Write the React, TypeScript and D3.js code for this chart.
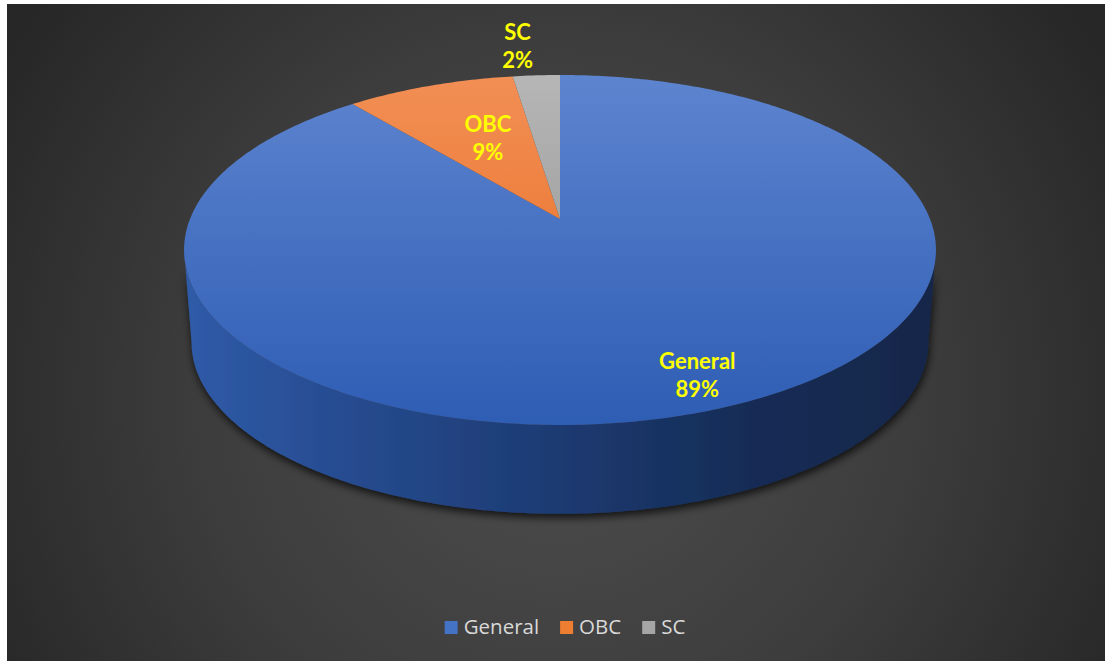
import React, { useEffect, useRef } from 'react';
import * as d3 from 'd3';

// slice data
const categories = ['General', 'OBC', 'SC'];
const shares = [89.0, 8.6, 2.4];
const shareLabels = ['89%', '9%', '2%'];

// colours (top face gradient: light -> dark)
const topColors: Record<string, [string, string]> = {
  General: ['#5d84cf', '#2e5db4'],
  OBC: ['#f28f55', '#e7691c'],
  SC: ['#b6b6b6', '#8c8c8c'],
};
const legendColors: Record<string, string> = {
  General: '#4472c4',
  OBC: '#ed7d31',
  SC: '#a5a5a5',
};

const W = 1106;
const H = 661;

export default function App() {
  const svgRef = useRef<SVGSVGElement>(null);

  useEffect(() => {
    if (!svgRef.current) return;
    const svg = d3.select(svgRef.current);
    svg.selectAll('*').remove();

    // pie geometry (ellipse with a bit of perspective)
    const cx = 560;
    const cy = 219;
    const rx = 370;
    const ry = 169.5;
    const persp = 0.177;
    const depth = 93;
    const botScale = 0.98;

    const topPt = (a: number, f = 1): [number, number] => {
      const s = 1 / (1 + persp * Math.cos(a));
      return [cx + rx * f * Math.sin(a) * s, cy - ry * f * Math.cos(a) * s];
    };
    const botPt = (a: number): [number, number] => {
      const s = 1 / (1 + persp * Math.cos(a));
      return [
        cx + rx * botScale * Math.sin(a) * s,
        cy + depth - ry * botScale * Math.cos(a) * s,
      ];
    };

    const defs = svg.append('defs');

    const bg = defs
      .append('radialGradient')
      .attr('id', 'bg')
      .attr('gradientUnits', 'userSpaceOnUse')
      .attr('cx', 556)
      .attr('cy', 390)
      .attr('r', 640);
    bg.append('stop').attr('offset', 0).attr('stop-color', '#4e4e4e');
    bg.append('stop').attr('offset', 0.55).attr('stop-color', '#3d3d3d');
    bg.append('stop').attr('offset', 1).attr('stop-color', '#272727');

    categories.forEach((c) => {
      const g = defs
        .append('linearGradient')
        .attr('id', `top-${c}`)
        .attr('gradientUnits', 'userSpaceOnUse')
        .attr('x1', 0)
        .attr('y1', 75)
        .attr('x2', 0)
        .attr('y2', 425);
      g.append('stop').attr('offset', 0).attr('stop-color', topColors[c][0]);
      g.append('stop').attr('offset', 1).attr('stop-color', topColors[c][1]);
    });

    const side = defs
      .append('linearGradient')
      .attr('id', 'side')
      .attr('gradientUnits', 'userSpaceOnUse')
      .attr('x1', 185)
      .attr('y1', 0)
      .attr('x2', 936)
      .attr('y2', 0);
    side.append('stop').attr('offset', 0).attr('stop-color', '#2f5ba8');
    side.append('stop').attr('offset', 0.25).attr('stop-color', '#25498c');
    side.append('stop').attr('offset', 0.5).attr('stop-color', '#1c3a71');
    side.append('stop').attr('offset', 0.76).attr('stop-color', '#162c55');
    side.append('stop').attr('offset', 1).attr('stop-color', '#14274a');

    const shadow = defs
      .append('filter')
      .attr('id', 'shadow')
      .attr('x', '-10%')
      .attr('y', '-10%')
      .attr('width', '120%')
      .attr('height', '130%');
    shadow
      .append('feDropShadow')
      .attr('dx', 1)
      .attr('dy', 4)
      .attr('stdDeviation', 4)
      .attr('flood-color', '#000')
      .attr('flood-opacity', 0.75);

    // chart area
    svg
      .append('rect')
      .attr('x', 7)
      .attr('y', 4)
      .attr('width', 1098)
      .attr('height', 657)
      .attr('fill', 'url(#bg)');

    const pie = d3
      .pie<number>()
      .sort(null)
      .value((d) => d);
    const arcs = pie(shares);

    const line = d3.line<[number, number]>();
    const N = 240;

    // side wall: visible between the two silhouette angles
    const aL = Math.acos(-persp);
    const aR = 2 * Math.PI - aL;
    const front: [number, number][] = d3.range(N + 1).map((i) => topPt(aL + ((aR - aL) * i) / N));
    const back: [number, number][] = d3.range(N + 1).map((i) => botPt(aR - ((aR - aL) * i) / N));
    svg
      .append('path')
      .attr('d', line([...front, ...back])! + 'Z')
      .attr('fill', 'url(#side)')
      .attr('filter', 'url(#shadow)');

    // top face slices
    arcs.forEach((a, i) => {
      const n = Math.max(8, Math.round((N * (a.endAngle - a.startAngle)) / Math.PI));
      const pts: [number, number][] = [[cx, cy]];
      for (let j = 0; j <= n; j++) {
        pts.push(topPt(a.startAngle + ((a.endAngle - a.startAngle) * j) / n));
      }
      svg
        .append('path')
        .attr('d', line(pts)! + 'Z')
        .attr('fill', `url(#top-${categories[i]})`);
    });

    // data labels
    const labelFrac = [0.82, 0.6, 1.2];
    const labelDx = [14, 6, -14];
    const labelFont = 'Lato, "Open Sans", sans-serif';
    arcs.forEach((a, i) => {
      const mid = (a.startAngle + a.endAngle) / 2;
      const [px, py] = topPt(mid, labelFrac[i]);
      const lx = px + labelDx[i];
      const t = svg
        .append('text')
        .attr('text-anchor', 'middle')
        .attr('font-family', labelFont)
        .attr('font-weight', 700)
        .attr('font-size', 22)
        .attr('fill', '#ffff00');
      t.append('tspan').attr('x', lx).attr('y', py - 7).text(categories[i]);
      t.append('tspan').attr('x', lx).attr('y', py + 21).text(shareLabels[i]);
    });

    // legend
    const legend = svg.append('g');
    let x = 0;
    categories.forEach((c) => {
      const g = legend.append('g').attr('transform', `translate(${x},0)`);
      g.append('rect')
        .attr('x', 0)
        .attr('y', -13)
        .attr('width', 13)
        .attr('height', 13)
        .attr('fill', legendColors[c]);
      const t = g
        .append('text')
        .attr('x', 19)
        .attr('y', 0)
        .attr('font-family', '"Open Sans", sans-serif')
        .attr('font-size', 20.5)
        .attr('fill', '#d9d9d9')
        .text(c);
      const w = (t.node() as SVGTextElement).getComputedTextLength();
      x += 19 + w + 21;
    });
    const total = x - 21;
    legend.attr('transform', `translate(${565 - total / 2},634)`);
  }, []);

  return (
    <div style={{ position: 'absolute', left: 0, top: 0 }}>
      <svg ref={svgRef} width={W} height={H} style={{ display: 'block', background: '#fff' }} />
    </div>
  );
}
